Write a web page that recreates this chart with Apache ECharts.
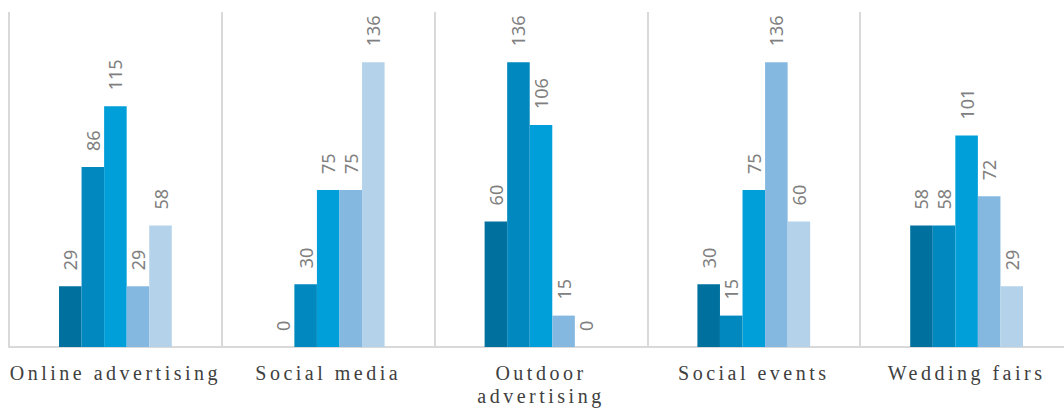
<!DOCTYPE html>
<html>
<head>
<meta charset="utf-8">
<script src="https://cdn.jsdelivr.net/npm/echarts@6/dist/echarts.min.js"></script>
<style>
  html, body { margin: 0; padding: 0; background: #fff; }
  #main { width: 1064px; height: 408px; }
</style>
</head>
<body>
<div id="main"></div>
<script>
var categories = ['Online advertising', 'Social media', 'Outdoor advertising', 'Social events', 'Wedding fairs'];
var series1 = [29, 0, 60, 30, 58];
var series2 = [86, 30, 136, 15, 58];
var series3 = [115, 75, 106, 75, 101];
var series4 = [29, 75, 15, 136, 72];
var series5 = [58, 136, 0, 60, 29];
var colors = ['#00719f', '#0088bf', '#009fda', '#84b8e0', '#b4d3eb'];

// svg so the category labels can get the wide letter spacing of the original
var chart = echarts.init(document.getElementById('main'), null, { renderer: 'svg' });

function makeSeries(name, data, color) {
    return {
        name: name,
        type: 'bar',
        data: data,
        barGap: '0%',
        barCategoryGap: '47%',
        itemStyle: { color: color },
        label: {
            show: true,
            position: 'top',
            rotate: 90,
            align: 'left',
            verticalAlign: 'middle',
            distance: 16,
            color: '#808080',
            fontSize: 18,
            fontFamily: 'Noto Sans'
        }
    };
}

chart.setOption({
    animation: false,
    grid: { left: 9, top: 12, width: 1064, bottom: 61, outerBoundsMode: 'none' },
    xAxis: {
        type: 'category',
        data: categories,
        axisTick: { show: false },
        axisLine: { lineStyle: { color: '#d9d9d9', width: 2 } },
        splitLine: { show: true, interval: 0, lineStyle: { color: '#d9d9d9', width: 2 } },
        axisLabel: {
            interval: 0,
            margin: 14,
            color: '#404040',
            fontSize: 20,
            lineHeight: 23,
            fontFamily: 'Liberation Serif',
            formatter: function (v) {
                return v.length > 18 ? v.replace(' ', '\n') : v;
            }
        }
    },
    yAxis: {
        type: 'value',
        min: 0,
        max: 160,
        show: false
    },
    series: [
        makeSeries('Series 1', series1, colors[0]),
        makeSeries('Series 2', series2, colors[1]),
        makeSeries('Series 3', series3, colors[2]),
        makeSeries('Series 4', series4, colors[3]),
        makeSeries('Series 5', series5, colors[4])
    ]
});

function spaceLabels() {
    var texts = document.querySelectorAll('#main svg text');
    for (var i = 0; i < texts.length; i++) {
        var st = texts[i].getAttribute('style') || '';
        if (st.indexOf('Liberation Serif') >= 0) {
            texts[i].setAttribute('letter-spacing', '3.5px');
        }
    }
}
spaceLabels();
chart.on('finished', spaceLabels);
</script>
</body>
</html>
